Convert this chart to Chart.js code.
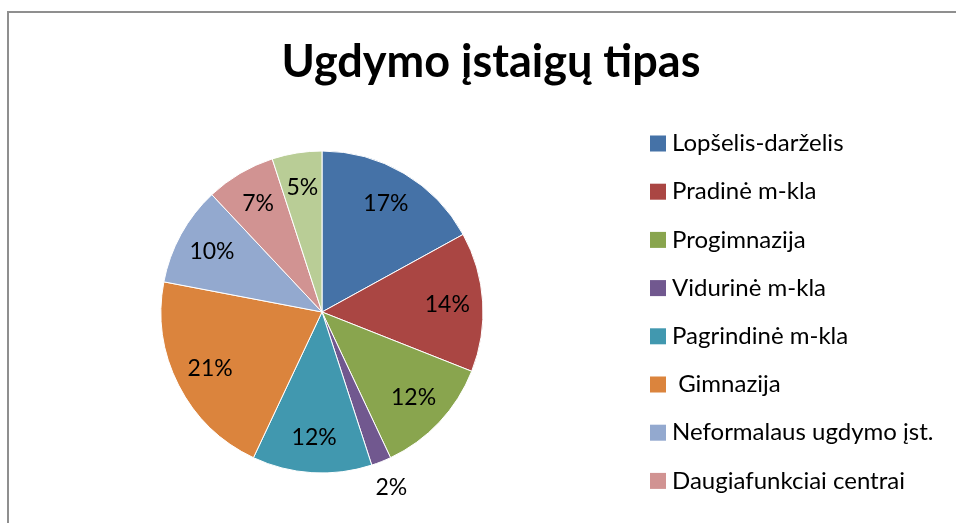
<!DOCTYPE html>
<html>
<head>
<meta charset="utf-8">
<script src="https://cdn.jsdelivr.net/npm/chart.js@4"></script>
<style>
  html, body { margin: 0; padding: 0; background: #fff; overflow: hidden; }
  #frame {
    position: absolute; left: 7px; top: 11px;
    width: 1000px; height: 600px;
    border: 2px solid #8f8f8f;
    background: #fff;
  }
  #clip { height: 506px; overflow: hidden; }
</style>
</head>
<body>
<div id="frame">
  <div id="clip">
    <canvas id="pieChart" width="947" height="510"></canvas>
  </div>
</div>
<script>
var chartTitle = 'Ugdymo įstaigų tipas';
var labels = ['Lopšelis-darželis', 'Pradinė m-kla', 'Progimnazija', 'Vidurinė m-kla',
              'Pagrindinė m-kla', ' Gimnazija', 'Neformalaus ugdymo įst.',
              'Daugiafunkciai centrai', 'Kita'];
var shares = [17, 14, 12, 2, 12, 21, 10, 7, 5];
var colors = ['#4572A7', '#AA4643', '#89A54E', '#71588F', '#4198AF',
              '#DB843D', '#93A9CF', '#D19392', '#B9CD96'];

// percent labels inside slices, small ones outside
var pctLabels = {
    id: 'pctLabels',
    afterDatasetsDraw: function(chart) {
        var ctx = chart.ctx;
        var meta = chart.getDatasetMeta(0);
        var total = shares.reduce(function(a, b) { return a + b; }, 0);
        ctx.save();
        ctx.font = '23px Lato';
        ctx.fillStyle = '#000';
        ctx.textAlign = 'center';
        ctx.textBaseline = 'middle';
        meta.data.forEach(function(arc, i) {
            var p = arc.getProps(['x', 'y', 'startAngle', 'endAngle', 'outerRadius'], true);
            var mid = (p.startAngle + p.endAngle) / 2;
            var k = shares[i] < 3 ? 1.17 : 0.78;
            var x = p.x + Math.cos(mid) * p.outerRadius * k;
            var y = p.y + Math.sin(mid) * p.outerRadius * k;
            ctx.fillText(Math.round(shares[i] / total * 100) + '%', x, y);
        });
        ctx.restore();
    }
};

// title over the whole box + legend on the right, Excel style
var excelChrome = {
    id: 'excelChrome',
    afterDraw: function(chart) {
        var ctx = chart.ctx;
        ctx.save();
        ctx.fillStyle = '#000';
        ctx.font = 'bold 45px Lato';
        ctx.textAlign = 'center';
        ctx.textBaseline = 'alphabetic';
        ctx.fillText(chartTitle, 482, 64);

        ctx.font = '24px Lato';
        ctx.textBaseline = 'middle';
        ctx.textAlign = 'left';
        chart.data.labels.forEach(function(lbl, i) {
            var y = 130.5 + i * 48.2;
            ctx.fillStyle = colors[i];
            ctx.fillRect(641, y - 8, 16, 16);
            ctx.fillStyle = '#000';
            ctx.fillText(lbl, 663, y);
        });
        ctx.restore();
    }
};

var ctx = document.getElementById('pieChart').getContext('2d');
var pieChart = new Chart(ctx, {
    type: 'pie',
    data: {
        labels: labels,
        datasets: [{
            data: shares,
            backgroundColor: colors,
            borderColor: '#ffffff',
            borderWidth: 1
        }]
    },
    options: {
        responsive: false,
        animation: false,
        radius: 161,
        layout: {
            padding: { left: 0, right: 321, top: 90, bottom: 2 }
        },
        plugins: {
            legend: { display: false },
            tooltip: { enabled: false },
            title: { display: false }
        }
    },
    plugins: [pctLabels, excelChrome]
});
</script>
</body>
</html>
